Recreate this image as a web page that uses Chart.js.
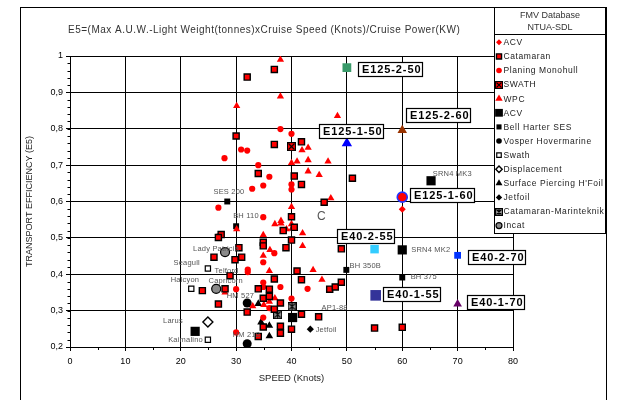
<!DOCTYPE html>
<html>
<head>
<meta charset="utf-8">
<script src="https://cdn.jsdelivr.net/npm/chart.js@4.4.0/dist/chart.umd.min.js"></script>
<style>
  html, body { margin: 0; padding: 0; background: #fff; }
  canvas { display: block; }
</style>
</head>
<body>
<canvas id="e5-chart" width="618" height="400"></canvas>
<script>
// values: [speed (knots), E5]
const acvRedPts = [[60, 0.579]];
const catamaranPts = [
  [36.9, 0.963], [32, 0.942], [30, 0.78], [36.9, 0.757], [41.8, 0.764],
  [34, 0.677], [40.5, 0.67], [51, 0.664], [41.8, 0.647], [45.9, 0.598],
  [40, 0.558], [40.5, 0.529], [38.5, 0.52], [40, 0.494], [34.9, 0.488],
  [34.9, 0.478], [39, 0.473], [49, 0.47], [27.3, 0.509], [26.8, 0.501],
  [30.5, 0.473], [26, 0.447], [31, 0.447], [29.8, 0.44], [28.9, 0.396],
  [36.9, 0.387], [41, 0.409], [41.8, 0.385], [46.9, 0.359], [47.9, 0.365],
  [49, 0.378], [36, 0.359], [34, 0.36], [23.9, 0.355], [28, 0.36],
  [26.8, 0.318], [34.9, 0.334], [36, 0.339], [38, 0.321], [36.9, 0.304],
  [32, 0.296], [41.8, 0.29], [44.9, 0.283], [55, 0.252], [60, 0.254],
  [40, 0.249], [38, 0.257], [38, 0.238], [34.9, 0.255], [34, 0.229]
];
const planingPts = [
  [38, 0.799], [40, 0.786], [30.9, 0.743], [32, 0.74], [27.9, 0.719],
  [34, 0.70], [36, 0.668], [34.9, 0.644], [32.9, 0.635], [40, 0.647],
  [40, 0.633], [26.8, 0.583], [34.9, 0.557], [36.9, 0.458], [34.9, 0.433],
  [32.1, 0.413], [32.1, 0.406], [34.9, 0.377], [34.9, 0.365], [38, 0.365],
  [30, 0.359], [42.9, 0.36], [40, 0.333], [36, 0.307], [34.9, 0.281],
  [30, 0.24], [26.8, 0.504]
];
const swathRedPts = [[40, 0.751]];
const wpcPts = [
  [38, 0.99], [38, 0.889], [30.1, 0.863], [48.3, 0.835], [41.9, 0.741],
  [43, 0.748], [40, 0.706], [41, 0.71], [43, 0.714], [46.6, 0.71],
  [43, 0.683], [45, 0.673], [47.1, 0.609], [40, 0.585], [30.1, 0.524],
  [37, 0.538], [38.1, 0.547], [38.1, 0.54], [39.1, 0.524], [40, 0.538],
  [40.1, 0.526], [42, 0.513], [34.9, 0.508], [42, 0.478], [36.1, 0.467],
  [34.9, 0.451], [43.9, 0.412], [36, 0.409], [45.5, 0.385], [28, 0.35],
  [33, 0.312], [35, 0.316], [36, 0.325], [37, 0.334]
];
const acvBlackPts = [[65.2, 0.657], [60, 0.467], [40.2, 0.281], [22.6, 0.243]];
const bellHarterPts = [[28.4, 0.6], [30, 0.532], [49.9, 0.412], [60, 0.391]];
const vosperPts = [[32, 0.321], [32, 0.209]];
const swathPts = [[24.9, 0.416], [21.9, 0.36], [24.9, 0.22]];
const displacementPts = [[24.9, 0.269]];
const piercingPts = [[34, 0.319], [34.5, 0.268], [36, 0.259], [36, 0.23]];
const jetfoilPts = [[43.4, 0.249]];
const marinteknikPts = [[40.1, 0.311], [37.5, 0.289]];
const incatPts = [[28, 0.461], [26.4, 0.36]];

// design points with their boxed names
const designNames = ['E125-2-50', 'E125-1-50', 'E125-2-60', 'E125-1-60', 'E40-2-55', 'E40-1-55', 'E40-2-70', 'E40-1-70'];
const designPts = [[50, 0.968], [50, 0.76], [60, 0.796], [60, 0.612], [55, 0.469], [55.2, 0.342], [70, 0.452], [70, 0.318]];

// named craft: text and the point it belongs to
const calloutText = ['SES 200', 'BH 110', 'Lady Patricia', 'Seagull', 'Telford', 'Halcyon', 'Capricorn', 'HM 527',
  'Larus', 'Kaimalino', 'HM 218', 'AP1-88', 'Jetfoil', 'BH 350B', 'BH 375', 'SRN4 MK2', 'SRN4 MK3', 'C'];
const calloutAt = [[28.4, 0.6], [30, 0.532], [28, 0.461], [24.9, 0.416], [28.9, 0.396], [21.9, 0.36], [26.4, 0.36], [32, 0.321],
  [24.9, 0.269], [24.9, 0.22], [32, 0.209], [44.9, 0.283], [43.4, 0.249], [49.9, 0.412], [60, 0.391], [60, 0.467], [65.2, 0.657], [45.4, 0.557]];

const legendLabels = ['ACV', 'Catamaran', 'Planing Monohull', 'SWATH', 'WPC', 'ACV', 'Bell Harter SES', 'Vosper Hovermarine',
  'Swath', 'Displacement', 'Surface Piercing H\'Foil', 'Jetfoil', 'Catamaran-Marinteknik', 'Incat'];

const xTicks = [0, 10, 20, 30, 40, 50, 60, 70, 80];
const yTicks = [0.2, 0.3, 0.4, 0.5, 0.6, 0.7, 0.8, 0.9, 1];

// ---- styling ----
const FONT = '"Liberation Sans", Arial, sans-serif';

function boxIcon(size, fill, star) {
  const cv = document.createElement('canvas');
  cv.width = size; cv.height = size;
  const g = cv.getContext('2d');
  g.fillStyle = fill;
  g.fillRect(0, 0, size, size);
  g.strokeStyle = '#000';
  g.lineWidth = 1.1;
  g.strokeRect(0.5, 0.5, size - 1, size - 1);
  g.beginPath();
  g.moveTo(1.5, 1.5); g.lineTo(size - 1.5, size - 1.5);
  g.moveTo(size - 1.5, 1.5); g.lineTo(1.5, size - 1.5);
  if (star) { g.moveTo(size / 2, 1); g.lineTo(size / 2, size - 1); }
  g.stroke();
  return cv;
}

const seriesStyle = [
  { pts: acvRedPts, style: 'rectRot', r: 3.5, bg: '#ff0000', bc: '#ff0000', bw: 0, lr: 3 },
  { pts: catamaranPts, style: 'rect', r: 4.3, bg: '#ff0000', bc: '#000', bw: 1.4, lr: 3.6 },
  { pts: planingPts, style: 'circle', r: 3.1, bg: '#ff0000', bc: '#ff0000', bw: 0, lr: 2.8 },
  { pts: swathRedPts, style: boxIcon(9, '#ff0000', false), r: 4, bg: '#ff0000', bc: '#000', bw: 0, legendIcon: boxIcon(8, '#ff0000', false) },
  { pts: wpcPts, style: 'triangle', r: 4.2, bg: '#ff0000', bc: '#ff0000', bw: 0, lr: 4.3 },
  { pts: acvBlackPts, style: 'rect', r: 6.5, bg: '#000', bc: '#000', bw: 0, lr: 5.5 },
  { pts: bellHarterPts, style: 'rect', r: 4.2, bg: '#000', bc: '#000', bw: 0, lr: 3.6 },
  { pts: vosperPts, style: 'circle', r: 4.5, bg: '#000', bc: '#000', bw: 0, lr: 2.8 },
  { pts: swathPts, style: 'rect', r: 3.7, bg: '#fff', bc: '#000', bw: 1.2, lr: 3.2 },
  { pts: displacementPts, style: 'rectRot', r: 5, bg: '#fff', bc: '#000', bw: 1.4, lr: 3.2 },
  { pts: piercingPts, style: 'triangle', r: 4.4, bg: '#000', bc: '#000', bw: 0, lr: 4 },
  { pts: jetfoilPts, style: 'rectRot', r: 3.6, bg: '#000', bc: '#000', bw: 0, lr: 3.2 },
  { pts: marinteknikPts, style: boxIcon(9, '#999', true), r: 4, bg: '#999', bc: '#000', bw: 0, legendIcon: boxIcon(8, '#999', true) },
  { pts: incatPts, style: 'circle', r: 4.5, bg: '#8a8a8a', bc: '#000', bw: 1.2, lr: 3 }
];

const designStyle = [
  { style: 'rect', r: 6.2, bg: '#3a9a6a', bc: '#3a9a6a', bw: 0, box: [10.7, -6] },
  { style: 'triangle', r: 6, bg: '#0000ff', bc: '#0000ff', bw: 0, box: [-27.4, -19.5] },
  { style: 'triangle', r: 5.5, bg: '#993300', bc: '#993300', bw: 0, box: [3.7, -22.3] },
  { style: 'circle', r: 5, bg: '#ff0000', bc: '#2233ff', bw: 1.6, box: [7.7, -9] },
  { style: 'rect', r: 6, bg: '#33ccff', bc: '#33ccff', bw: 0, box: [-37.6, -20] },
  { style: 'rect', r: 7.5, bg: '#333399', bc: '#333399', bw: 0, box: [7, -8] },
  { style: 'rect', r: 4.8, bg: '#0033ff', bc: '#0033ff', bw: 0, box: [10.3, -5.3] },
  { style: 'triangle', r: 5, bg: '#660066', bc: '#660066', bw: 0, box: [9.7, -9.3] }
];

// text anchor offsets for the small craft names: [dx, dy, align]
const calloutLayout = {
  'SES 200': [1.7, -9.3, 'center'], 'BH 110': [-3, -10, 'left'], 'Lady Patricia': [-9, -3, 'center'],
  'Seagull': [-8, -5.4, 'right'], 'Telford': [-3.5, -4.3, 'center'], 'Halcyon': [-6.3, -9, 'center'],
  'Capricorn': [9.5, -8.3, 'center'], 'HM 527': [-6.8, -6.6, 'center'], 'Larus': [-25, -0.6, 'right'],
  'Kaimalino': [-5, 0.7, 'right'], 'HM 218': [-0.8, -8.3, 'center'], 'AP1-88': [16, -9.3, 'center'],
  'Jetfoil': [5.3, 0.7, 'left'], 'BH 350B': [3.3, -4.3, 'left'], 'BH 375': [8.4, -1, 'left'],
  'SRN4 MK2': [9, 0, 'left'], 'SRN4 MK3': [1.7, -6.4, 'left'], 'C': [0, 0, 'center']
};

const toXY = (pts) => pts.map(p => ({ x: p[0], y: p[1] }));

const datasets = [];
designPts.forEach((p, i) => {
  const s = designStyle[i];
  datasets.push({
    label: designNames[i], data: toXY([p]),
    pointStyle: s.style, pointRadius: s.r, backgroundColor: s.bg, borderColor: s.bc, borderWidth: s.bw
  });
});
seriesStyle.forEach((s, i) => {
  datasets.push({
    label: legendLabels[i], data: toXY(s.pts),
    pointStyle: s.style, pointRadius: s.r, backgroundColor: s.bg, borderColor: s.bc, borderWidth: s.bw
  });
});

const decor = {
  id: 'decor',
  beforeDraw(chart) {
    const c = chart.ctx;
    c.save();
    c.fillStyle = '#fff';
    c.fillRect(0, 0, chart.width, chart.height);
    c.restore();
  },
  afterDraw(chart) {
    const c = chart.ctx;
    const xs = chart.scales.x, ys = chart.scales.y;
    const area = chart.chartArea;
    c.save();

    // minor ticks
    c.strokeStyle = '#000';
    c.lineWidth = 1;
    c.beginPath();
    for (let i = 0; i <= 40; i++) {
      const py = Math.round(ys.getPixelForValue(0.2 + i * 0.02)) + 0.5;
      c.moveTo(area.left - 2.5, py); c.lineTo(area.left, py);
    }
    for (let i = 0; i < 8; i++) {
      const px = Math.round(xs.getPixelForValue(5 + i * 10)) + 0.5;
      c.moveTo(px, area.bottom); c.lineTo(px, area.bottom + 3);
    }
    c.stroke();

    // craft names
    c.fillStyle = '#555';
    c.textBaseline = 'middle';
    calloutText.forEach((t, i) => {
      const lay = calloutLayout[t];
      const px = xs.getPixelForValue(calloutAt[i][0]);
      const py = ys.getPixelForValue(calloutAt[i][1]);
      c.font = t === 'C' ? '12px ' + FONT : '7.5px ' + FONT;
      c.letterSpacing = '0.2px';
      c.textAlign = lay[2];
      c.fillText(t, px + lay[0], py + lay[1]);
    });

    // boxed design names
    c.font = 'bold 11px ' + FONT;
    c.letterSpacing = '0.9px';
    c.textAlign = 'left';
    designNames.forEach((t, i) => {
      const p = designPts[i];
      const px = xs.getPixelForValue(p[0]) + designStyle[i].box[0];
      const py = ys.getPixelForValue(p[1]) + designStyle[i].box[1];
      const w = Math.round(c.measureText(t).width + 5);
      const bx = Math.round(px) + 0.5, by = Math.round(py) + 0.5;
      c.fillStyle = '#fff';
      c.fillRect(bx, by, w, 14);
      c.strokeStyle = '#000';
      c.lineWidth = 1.2;
      c.strokeRect(bx, by, w, 14);
      c.fillStyle = '#000';
      c.fillText(t, bx + 3.5, by + 7.5);
    });

    // outer frame
    c.lineWidth = 1;
    c.strokeStyle = '#000';
    c.strokeRect(20.5, 7.5, 586, 420);

    // formula title
    c.font = '10px ' + FONT;
    c.letterSpacing = '0.5px';
    c.fillStyle = '#333';
    c.textAlign = 'left';
    c.fillText('E5=(Max A.U.W.-Light Weight(tonnes)xCruise Speed (Knots)/Cruise Power(KW)', 68, 30);

    // legend title box
    c.fillStyle = '#fff';
    c.fillRect(494.5, 7.5, 111, 27);
    c.strokeRect(494.5, 7.5, 111, 27);
    c.fillStyle = '#333';
    c.textAlign = 'center';
    c.font = '9px ' + FONT;
    c.letterSpacing = '0px';
    c.fillText('FMV Database', 550, 16);
    c.fillText('NTUA-SDL', 550, 28);

    // legend body
    c.fillStyle = '#fff';
    c.fillRect(494.5, 34.5, 111, 199);
    c.strokeRect(494.5, 34.5, 111, 199);
    c.textAlign = 'left';
    c.font = '8.5px ' + FONT;
    c.letterSpacing = '0.6px';
    seriesStyle.forEach((s, i) => {
      const y = 42.3 + i * 14.1;
      c.save();
      c.fillStyle = s.bg;
      c.strokeStyle = s.bc;
      c.lineWidth = s.bw;
      if (s.legendIcon) {
        c.drawImage(s.legendIcon, 499 - 4, Math.round(y) - 4);
      } else {
        Chart.helpers.drawPoint(c, { pointStyle: s.style, radius: s.lr, rotation: 0, borderWidth: s.bw }, 499, y);
      }
      c.restore();
      c.fillStyle = '#222';
      c.fillText(legendLabels[i], 503.5, y + 0.5);
    });
    c.restore();
  }
};

new Chart(document.getElementById('e5-chart').getContext('2d'), {
  type: 'scatter',
  data: { datasets: datasets },
  options: {
    responsive: false,
    animation: false,
    events: [],
    layout: { padding: { left: 20, right: 105, top: 56, bottom: 0 } },
    plugins: { legend: { display: false }, tooltip: { enabled: false } },
    scales: {
      x: {
        type: 'linear', min: 0, max: 80,
        afterFit(scale) { scale.height = 53; },
        afterBuildTicks(scale) { scale.ticks = xTicks.map(v => ({ value: v })); },
        grid: { color: '#000', lineWidth: 1, tickLength: 4 },
        border: { color: '#000', width: 1 },
        ticks: { color: '#000', font: { family: FONT, size: 9 }, padding: 5 },
        title: { display: true, text: 'SPEED (Knots)', color: '#222', font: { family: FONT, size: 9.5 }, padding: { top: 4, bottom: 16 } }
      },
      y: {
        type: 'linear', min: 0.2, max: 1,
        afterFit(scale) { scale.width = 50; },
        afterBuildTicks(scale) { scale.ticks = yTicks.map(v => ({ value: v })); },
        grid: { color: '#000', lineWidth: 1, tickLength: 4 },
        border: { color: '#000', width: 1 },
        ticks: {
          color: '#000', font: { family: FONT, size: 9 }, padding: 3,
          callback: (v) => v === 1 ? '1' : v.toFixed(1).replace('.', ',')
        },
        title: { display: true, text: 'TRANSPORT EFFICIENCY (E5)', color: '#222', font: { family: FONT, size: 9 }, padding: { top: 4, bottom: 4 } }
      }
    }
  },
  plugins: [decor]
});
</script>
</body>
</html>
